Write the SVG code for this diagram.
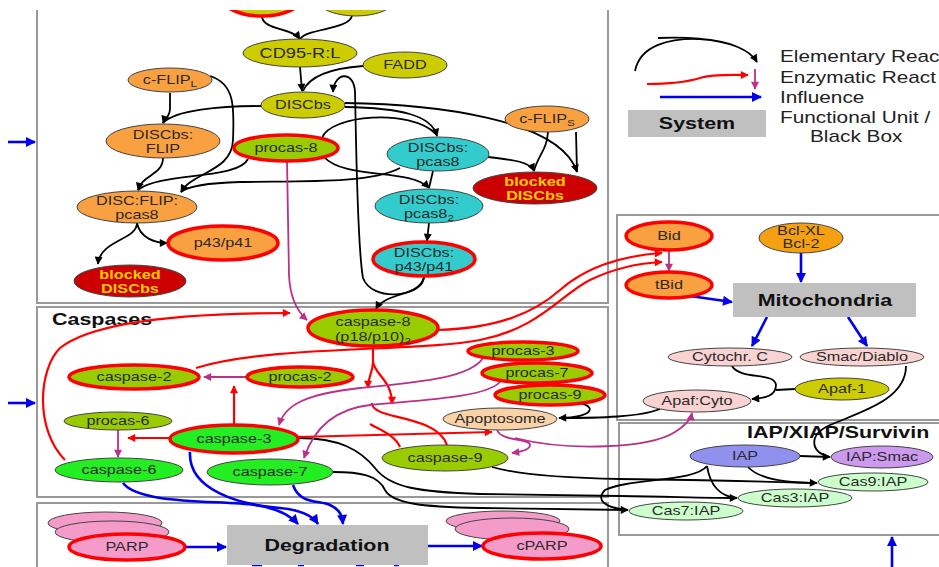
<svg xmlns="http://www.w3.org/2000/svg" width="939" height="567" viewBox="0 0 939 567">
<style>
text{font-family:"Liberation Sans",Arial,sans-serif;transform-box:fill-box;transform-origin:center;transform:scaleX(1.3)}
.t{font-size:12.5px;fill:#2a2a2a;text-anchor:middle}
.tw{font-size:12.5px;fill:#ffcc00;font-weight:bold;text-anchor:middle}
.h{font-size:16.5px;font-weight:bold;fill:#111}
.hc{font-size:16.5px;font-weight:bold;fill:#111;text-anchor:middle}
.L{transform-origin:left center}
.lg{font-size:16px;fill:#222}
.sub{font-size:9px}
.panel{fill:none;stroke:#999;stroke-width:2}
.box{fill:#c0c0c0}
ellipse{stroke:#444;stroke-width:1}
.R{stroke:#ff0000;stroke-width:3.5}
.yel{fill:#cccc00}
.org{fill:#f9a040}
.org2{fill:#f5a010}
.cya{fill:#33cccc}
.drd{fill:#cc0000}
.olv{fill:#99cc00}
.grn{fill:#22ee22}
.pch{fill:#fad2a8}
.lpk{fill:#f9d2d2}
.iap{fill:#9090ee}
.lav{fill:#cc99ee}
.lgr{fill:#ccffcc}
.pnk{fill:#f59bca}
#connectors path{fill:none}
.k{stroke:#000;stroke-width:1.8}
.r{stroke:#ff0000;stroke-width:2.2}
.m{stroke:#bb3088;stroke-width:1.8}
.b{stroke:#0000ee;stroke-width:2.6}
</style>
<defs>
<marker id="ak" viewBox="0 0 10 10" refX="9" refY="5" markerWidth="9" markerHeight="8" markerUnits="userSpaceOnUse" orient="auto"><path d="M0,0L10,5L0,10z" fill="#000"/></marker>
<marker id="ar" viewBox="0 0 10 10" refX="9" refY="5" markerWidth="10" markerHeight="8" markerUnits="userSpaceOnUse" orient="auto"><path d="M0,0L10,5L0,10z" fill="#ff0000"/></marker>
<marker id="am" viewBox="0 0 10 10" refX="9" refY="5" markerWidth="9" markerHeight="8" markerUnits="userSpaceOnUse" orient="auto"><path d="M0,0L10,5L0,10z" fill="#bb3088"/></marker>
<marker id="ab" viewBox="0 0 10 10" refX="9" refY="5" markerWidth="13" markerHeight="10" markerUnits="userSpaceOnUse" orient="auto"><path d="M0,0L10,5L0,10z" fill="#0000ee"/></marker>
<clipPath id="cut"><rect x="0" y="10" width="939" height="557"/></clipPath>
</defs>
<rect width="939" height="567" fill="#fff"/>

<g id="panels">
<path class="panel" d="M37,10V303H608V10"/>
<rect class="panel" x="37" y="307" width="571" height="190"/>
<rect class="panel" x="37" y="503" width="571" height="80"/>
<rect class="panel" x="617" y="215" width="340" height="205"/>
<rect class="panel" x="619" y="423" width="340" height="112"/>
<text class="h L" x="52" y="325">Caspases</text>
<text class="h L" x="747" y="438">IAP/XIAP/Survivin</text>
</g>

<g id="legend">
<path d="M635,71 C640,45 670,38 700,39 C730,41 750,50 757,62" fill="none" stroke="#000" stroke-width="1.8" marker-end="url(#ak)"/>
<path d="M658,38 C680,37 692,38 702,39" fill="none" stroke="#000" stroke-width="1.8"/>
<path d="M647,84 C670,84 690,81 700,78 C712,74 730,75 748,75" fill="none" stroke="#ff0000" stroke-width="2.2" marker-end="url(#ar)"/>
<path d="M755,69 L755,89" fill="none" stroke="#bb3088" stroke-width="1.8" marker-end="url(#am)"/>
<path d="M660,97 L761,97" fill="none" stroke="#0000ee" stroke-width="2.6" marker-end="url(#ab)"/>
<rect class="box" x="628" y="110" width="138" height="27"/>
<text class="hc" x="697" y="129">System</text>
<text class="lg L" x="780" y="62">Elementary Reac</text>
<text class="lg L" x="780" y="83">Enzymatic React</text>
<text class="lg L" x="780" y="103">Influence</text>
<text class="lg L" x="780" y="123">Functional Unit /</text>
<text class="lg L" x="810" y="142">Black Box</text>
</g>

<g id="connectors">
<path class="k" d="M262,17 C264,30 292,28 300,39" marker-end="url(#ak)"/>
<path class="k" d="M352,16 C348,30 308,28 300,39"/>
<path class="k" d="M300,67 L302,91" marker-end="url(#ak)"/>
<path class="k" d="M363,66 C335,68 310,75 303,91"/>
<path class="k" d="M424,277 C420,298 372,302 363,278 C357,245 356,130 355,92 C354,70 334,72 333,92" marker-end="url(#ak)"/>
<path class="k" d="M424,277 C423,296 385,292 376,309" marker-end="url(#ak)"/>
<path class="k" d="M170,93 L170,108 C170,118 165,117 163,123" marker-end="url(#ak)"/>
<path class="k" d="M261,106 C220,106 175,110 163,123"/>
<path class="k" d="M210,76 C236,84 234,110 233,140 C232,172 192,172 181,192" marker-end="url(#ak)"/>
<path class="k" d="M400,168 C370,184 300,181 240,182 C205,183 188,186 181,192"/>
<path class="k" d="M163,158 C163,175 142,175 138,190" marker-end="url(#ak)"/>
<path class="k" d="M248,159 C238,180 160,172 138,190"/>
<path class="k" d="M345,107 C400,108 432,115 437,136" marker-end="url(#ak)"/>
<path class="k" d="M322,138 C330,115 410,108 436,134"/>
<path class="k" d="M324,157 C345,180 410,168 429,188" marker-end="url(#ak)"/>
<path class="k" d="M433,171 L429,188"/>
<path class="k" d="M488,157 C515,160 530,162 534,171" marker-end="url(#ak)"/>
<path class="k" d="M548,132 C547,150 538,155 534,171"/>
<path class="k" d="M345,103 C430,104 560,118 577,172" marker-end="url(#ak)"/>
<path class="k" d="M576,132 L577,172"/>
<path class="k" d="M429,223 L427,241" marker-end="url(#ak)"/>
<path class="k" d="M137,223 C137,240 100,240 98,264" marker-end="url(#ak)"/>
<path class="k" d="M137,223 C140,238 155,243 167,243" marker-end="url(#ak)"/>
<path class="k" d="M574,402 C598,405 596,417 559,418" marker-end="url(#ak)"/>
<path class="k" d="M660,409 C640,417 600,418 559,418"/>
<path class="k" d="M492,467 C520,475 560,478 620,479 C700,480 780,482 817,483" marker-end="url(#ak)"/>
<path class="k" d="M748,467 C760,480 790,483 817,483"/>
<path class="k" d="M298,438 C340,438 360,450 375,468 C390,488 420,492 480,494 L620,496 C680,497 710,498 737,498" marker-end="url(#ak)"/>
<path class="k" d="M707,466 C710,485 720,497 737,498"/>
<path class="k" d="M333,472 C360,472 378,475 385,490 C392,503 420,507 480,508 L628,510" marker-end="url(#ak)"/>
<path class="k" d="M707,466 C695,482 630,478 605,490 C595,500 605,508 628,510"/>
<path class="k" d="M800,456 L830,457" marker-end="url(#ak)"/>
<path class="k" d="M906,366 C906,400 860,412 830,425 C808,435 810,452 830,457"/>
<path class="k" d="M732,366 C740,380 775,372 776,385 C776,396 765,398 752,399" marker-end="url(#ak)"/>
<path class="k" d="M795,389 L776,390"/>

<path class="r" d="M65,460 C35,430 38,370 60,348 C100,316 220,313 290,313" marker-end="url(#ar)"/>
<path class="r" d="M196,368 C270,345 420,352 480,340 C540,328 560,295 590,280 C615,268 640,263 662,262" marker-end="url(#ar)"/>
<path class="r" d="M438,330 C500,328 535,312 560,290 C585,268 620,256 662,253" marker-end="url(#ar)"/>
<path class="r" d="M373,346 L373,362 C373,372 368,376 368,388" marker-end="url(#ar)"/>
<path class="r" d="M373,362 C375,375 392,380 392,404" marker-end="url(#ar)"/>
<path class="r" d="M447,445 C440,425 410,420 390,415 C378,412 372,408 372,403"/>
<path class="r" d="M400,447 C395,435 380,430 370,424"/>
<path class="r" d="M234,425 L234,386" marker-end="url(#ar)"/>
<path class="r" d="M170,438 L128,438" marker-end="url(#ar)"/>
<path class="r" d="M298,437 L492,432" marker-end="url(#ar)"/>

<path class="m" d="M287,161 L289,275 C290,300 298,312 307,320" marker-end="url(#am)"/>
<path class="m" d="M247,377 L204,377" marker-end="url(#am)"/>
<path class="m" d="M118,430 L118,457" marker-end="url(#am)"/>
<path class="m" d="M483,358 C470,378 420,382 360,388 C305,394 285,405 279,425" marker-end="url(#am)"/>
<path class="m" d="M500,382 C485,398 420,400 370,405 C325,410 310,440 304,458" marker-end="url(#am)"/>
<path class="m" d="M497,430 C502,442 530,438 530,445 C530,450 520,452 512,453" marker-end="url(#am)"/>
<path class="m" d="M515,438 C570,452 650,448 675,432 C688,424 691,418 692,413" marker-end="url(#am)"/>
<path class="m" d="M669,250 L669,271" marker-end="url(#am)"/>

<path class="b" d="M8,142 L35,142" marker-end="url(#ab)"/>
<path class="b" d="M8,403 L35,403" marker-end="url(#ab)"/>
<path class="b" d="M801,253 L801,282" marker-end="url(#ab)"/>
<path class="b" d="M690,296 L732,302" marker-end="url(#ab)"/>
<path class="b" d="M767,317 L752,346" marker-end="url(#ab)"/>
<path class="b" d="M848,317 L867,346" marker-end="url(#ab)"/>
<path class="b" d="M123,483 C140,505 220,500 255,505 C275,508 290,515 298,524" marker-end="url(#ab)"/>
<path class="b" d="M190,452 C188,490 240,505 280,508 C300,510 312,515 318,524" marker-end="url(#ab)"/>
<path class="b" d="M293,485 C300,505 320,500 330,505 C340,510 342,515 343,524" marker-end="url(#ab)"/>
<path class="b" d="M185,547 L226,547" marker-end="url(#ab)"/>
<path class="b" d="M428,546 L482,546" marker-end="url(#ab)"/>
<path class="b" d="M892,567 L892,537" marker-end="url(#ab)"/>
<path class="b" d="M252,565 L262,565 M298,565 L304,565 M356,565 L364,565 M394,565 L399,565"/>
</g>

<g id="nodes">
<g id="topA" clip-path="url(#cut)"><ellipse class="yel R" cx="262" cy="-5" rx="42" ry="21"/></g>
<g id="topB" clip-path="url(#cut)"><ellipse class="yel" cx="356" cy="-4" rx="42" ry="20"/></g>
<g id="cd95"><ellipse class="yel" cx="300" cy="53" rx="57" ry="14"/><text class="t" x="300" y="58" style="font-size:14px">CD95-R:L</text></g>
<g id="fadd"><ellipse class="yel" cx="405" cy="65" rx="42" ry="13"/><text class="t" x="405" y="69.5">FADD</text></g>
<g id="discbs"><ellipse class="yel" cx="303" cy="105" rx="42" ry="13"/><text class="t" x="303" y="109.5">DISCbs</text></g>
<g id="cflipL"><ellipse class="org" cx="170" cy="80" rx="42" ry="12"/><text class="t" x="170" y="84.5">c-FLIP<tspan class="sub" dy="3">L</tspan></text></g>
<g id="discbsflip"><ellipse class="org" cx="163" cy="141" rx="57" ry="17"/><text class="t" x="163" y="139">DISCbs:</text><text class="t" x="163" y="153">FLIP</text></g>
<g id="procas8"><ellipse class="olv R" cx="286" cy="148" rx="52" ry="13"/><text class="t" x="286" y="152.5">procas-8</text></g>
<g id="discbspcas8"><ellipse class="cya" cx="438" cy="154" rx="51" ry="17"/><text class="t" x="438" y="152">DISCbs:</text><text class="t" x="438" y="166">pcas8</text></g>
<g id="cflipS"><ellipse class="org" cx="547" cy="119" rx="42" ry="13"/><text class="t" x="547" y="123.5">c-FLIP<tspan class="sub" dy="3">S</tspan></text></g>
<g id="blocked1"><ellipse class="drd" cx="535" cy="188" rx="62" ry="16"/><text class="tw" x="535" y="186">blocked</text><text class="tw" x="535" y="200">DISCbs</text></g>
<g id="discflippcas8"><ellipse class="org" cx="137" cy="207" rx="60" ry="16"/><text class="t" x="137" y="205">DISC:FLIP:</text><text class="t" x="137" y="219">pcas8</text></g>
<g id="p43p41"><ellipse class="org R" cx="223" cy="243" rx="55" ry="17"/><text class="t" x="223" y="247.5">p43/p41</text></g>
<g id="blocked2"><ellipse class="drd" cx="130" cy="281" rx="56" ry="16"/><text class="tw" x="130" y="279">blocked</text><text class="tw" x="130" y="293">DISCbs</text></g>
<g id="discbspcas82"><ellipse class="cya" cx="429" cy="206" rx="54" ry="17"/><text class="t" x="429" y="204">DISCbs:</text><text class="t" x="429" y="218">pcas8<tspan class="sub" dy="3">2</tspan></text></g>
<g id="discbsp43"><ellipse class="cya R" cx="424" cy="259" rx="51" ry="17"/><text class="t" x="424" y="257">DISCbs:</text><text class="t" x="424" y="271">p43/p41</text></g>
<g id="casp8"><ellipse class="olv R" cx="373" cy="328" rx="65" ry="18"/><text class="t" x="373" y="326">caspase-8</text><text class="t" x="373" y="341">(p18/p10)<tspan class="sub" dy="3">2</tspan></text></g>
<g id="procas3"><ellipse class="olv R" cx="523" cy="351" rx="55" ry="9"/><text class="t" x="523" y="355.5">procas-3</text></g>
<g id="procas7"><ellipse class="olv R" cx="537" cy="373" rx="55" ry="10"/><text class="t" x="537" y="377.5">procas-7</text></g>
<g id="procas9"><ellipse class="olv R" cx="550" cy="395" rx="55" ry="10"/><text class="t" x="550" y="399.5">procas-9</text></g>
<g id="apoptosome"><ellipse class="pch" cx="500" cy="419" rx="57" ry="11"/><text class="t" x="500" y="423.5">Apoptosome</text></g>
<g id="casp9"><ellipse class="olv" cx="445" cy="458" rx="63" ry="13"/><text class="t" x="445" y="462.5">caspase-9</text></g>
<g id="casp2"><ellipse class="olv R" cx="134" cy="377" rx="65" ry="12"/><text class="t" x="134" y="381.5">caspase-2</text></g>
<g id="procas2"><ellipse class="olv R" cx="300" cy="377" rx="53" ry="10"/><text class="t" x="300" y="381.5">procas-2</text></g>
<g id="procas6"><ellipse class="olv" cx="118" cy="421" rx="54" ry="9"/><text class="t" x="118" y="425.5">procas-6</text></g>
<g id="casp3"><ellipse class="grn R" cx="234" cy="439" rx="64" ry="14"/><text class="t" x="234" y="443.5">caspase-3</text></g>
<g id="casp6"><ellipse class="grn" cx="119" cy="470" rx="64" ry="12"/><text class="t" x="119" y="474.5">caspase-6</text></g>
<g id="casp7"><ellipse class="grn" cx="270" cy="472" rx="63" ry="13"/><text class="t" x="270" y="476.5">caspase-7</text></g>
<g id="parp"><ellipse class="pnk" cx="105" cy="523" rx="57" ry="11"/><ellipse class="pnk" cx="112" cy="532" rx="57" ry="11"/><ellipse class="pnk R" cx="127" cy="547" rx="58" ry="13"/><text class="t" x="127" y="551.5">PARP</text></g>
<g id="degradation"><rect class="box" x="227" y="525" width="201" height="40"/><text class="hc" x="327" y="551">Degradation</text></g>
<g id="cparp"><ellipse class="pnk" cx="503" cy="521" rx="57" ry="10"/><ellipse class="pnk" cx="512" cy="529" rx="57" ry="11"/><ellipse class="pnk R" cx="542" cy="546" rx="59" ry="13"/><text class="t" x="542" y="550.5">cPARP</text></g>
<g id="bid"><ellipse class="org R" cx="669" cy="236" rx="43" ry="14"/><text class="t" x="669" y="240.5">Bid</text></g>
<g id="tbid"><ellipse class="org R" cx="669" cy="285" rx="43" ry="13"/><text class="t" x="669" y="289.5">tBid</text></g>
<g id="bcl"><ellipse class="org2" cx="801" cy="238" rx="42" ry="15"/><text class="t" x="801" y="235">Bcl-XL</text><text class="t" x="801" y="248">Bcl-2</text></g>
<g id="mitochondria"><rect class="box" x="733" y="283" width="183" height="34"/><text class="hc" x="825" y="306">Mitochondria</text></g>
<g id="cytc"><ellipse class="lpk" cx="730" cy="357" rx="62" ry="9"/><text class="t" x="730" y="361.5">Cytochr. C</text></g>
<g id="smac"><ellipse class="lpk" cx="862" cy="357" rx="62" ry="9"/><text class="t" x="862" y="361.5">Smac/Diablo</text></g>
<g id="apaf1"><ellipse class="yel" cx="842" cy="389" rx="47" ry="11"/><text class="t" x="842" y="393.5">Apaf-1</text></g>
<g id="apafcyto"><ellipse class="lpk" cx="697" cy="401" rx="54" ry="11"/><text class="t" x="697" y="405.5">Apaf:Cyto</text></g>
<g id="iap"><ellipse class="iap" cx="745" cy="456" rx="55" ry="11"/><text class="t" x="745" y="460.5">IAP</text></g>
<g id="iapsmac"><ellipse class="lav" cx="882" cy="457" rx="51" ry="11"/><text class="t" x="882" y="461.5">IAP:Smac</text></g>
<g id="cas9iap"><ellipse class="lgr" cx="873" cy="482" rx="55" ry="9"/><text class="t" x="873" y="486.5">Cas9:IAP</text></g>
<g id="cas3iap"><ellipse class="lgr" cx="795" cy="498" rx="57" ry="9"/><text class="t" x="795" y="502.5">Cas3:IAP</text></g>
<g id="cas7iap"><ellipse class="lgr" cx="686" cy="511" rx="57" ry="9"/><text class="t" x="686" y="515.5">Cas7:IAP</text></g>
</g>
</svg>
